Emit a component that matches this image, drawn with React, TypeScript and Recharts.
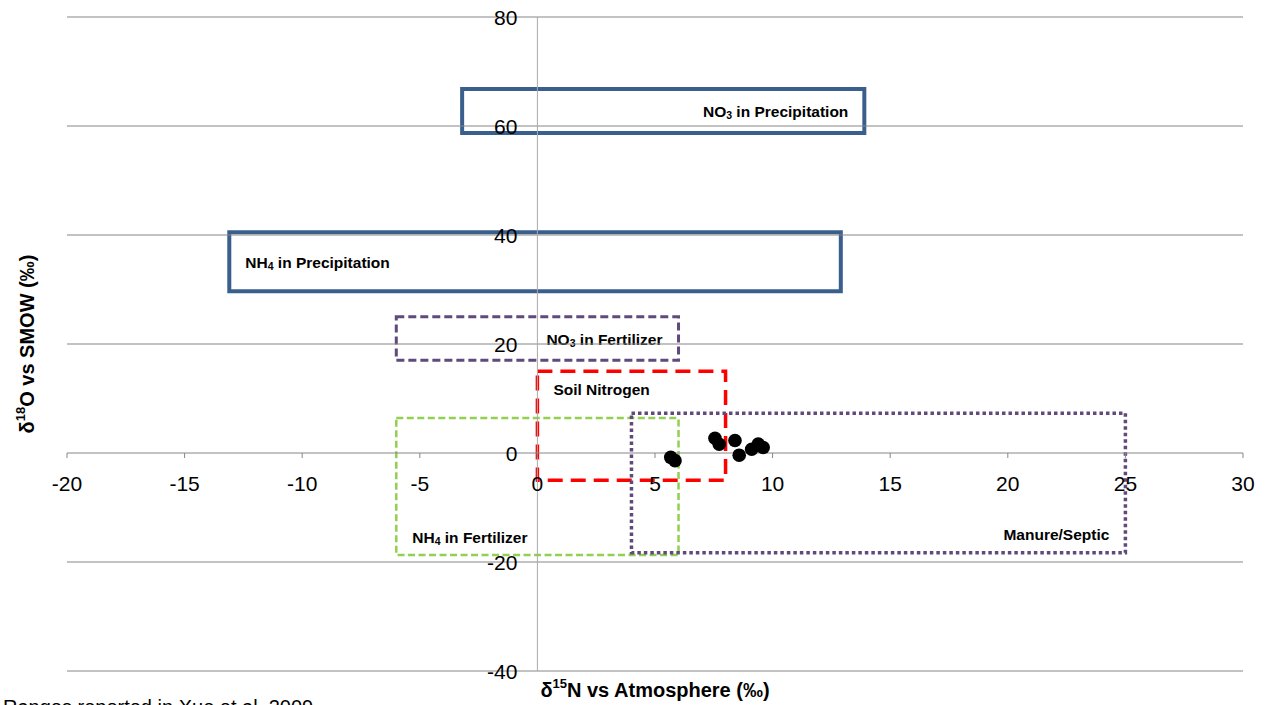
import React from "react";
import {
  ReferenceArea,
  ReferenceDot,
  ReferenceLine,
  Scatter,
  ScatterChart,
  XAxis,
  YAxis,
} from "recharts";

// axis ticks
const xTicks = [-20, -15, -10, -5, 0, 5, 10, 15, 20, 25, 30];
const yTicks = [-40, -20, 0, 20, 40, 60, 80];

const sampleN15 = [5.67, 5.85, 7.55, 7.73, 8.4, 8.58, 9.11, 9.39, 9.6];
const sampleO18 = [-0.8, -1.4, 2.7, 1.6, 2.3, -0.4, 0.7, 1.65, 1.0];

// literature source ranges (Xue et al. 2009)
const sourceNames = [
  "NO3 in Precipitation",
  "NH4 in Precipitation",
  "NO3 in Fertilizer",
  "Soil Nitrogen",
  "NH4 in Fertilizer",
  "Manure/Septic",
];
const sourceN15 = [
  [-3.2, 13.9],
  [-13.1, 12.9],
  [-6, 6],
  [0, 8],
  [-6, 6],
  [4, 25],
];
const sourceO18 = [
  [58.7, 66.8],
  [29.7, 40.5],
  [17, 25],
  [-5, 15],
  [-18.7, 6.4],
  [-18.3, 7.3],
];

const sourceNote = "Ranges reported in Xue et al. 2009";

const samples = sampleN15.map((x, i) => ({ x, y: sampleO18[i] }));

const FONT = "'Liberation Sans Narrow', 'Liberation Sans', Arial, sans-serif";
const GRID = "#868686";

type Place = "right" | "left" | "topLeft" | "bottomLeft" | "bottomRight";

// look of each range box (keyed by name)
const boxStyle: Record<string, { stroke: string; width: number; dash?: string; place: Place }> = {
  "NO3 in Precipitation": { stroke: "#3A5F8D", width: 4, place: "right" },
  "NH4 in Precipitation": { stroke: "#3A5F8D", width: 4, place: "left" },
  "NO3 in Fertilizer": { stroke: "#604A7B", width: 3, dash: "8 4", place: "right" },
  "Soil Nitrogen": { stroke: "#FF0000", width: 3.5, dash: "15 8", place: "topLeft" },
  "NH4 in Fertilizer": { stroke: "#92D050", width: 2.5, dash: "7 3.5", place: "bottomLeft" },
  "Manure/Septic": { stroke: "#604A7B", width: 3.5, dash: "3.5 3", place: "bottomRight" },
};

function boxLabel(name: string, place: Place) {
  return (props: any) => {
    const { x, y, width, height } = props.viewBox;
    const inset = 16;
    const vInset = 18;
    let tx = x + inset;
    let ty = y + height / 2;
    let anchor: "start" | "end" = "start";
    if (place === "right" || place === "bottomRight") {
      tx = x + width - inset;
      anchor = "end";
    }
    if (place === "topLeft") ty = y + vInset;
    if (place === "bottomLeft" || place === "bottomRight") ty = y + height - vInset;
    const m = name.match(/^(N[OH])(\d)(.*)$/);
    return (
      <text
        x={tx}
        y={ty}
        textAnchor={anchor}
        dominantBaseline="central"
        fontFamily={FONT}
        fontWeight={700}
        fontSize={15.5}
        fill="#000"
      >
        {m ? (
          <>
            <tspan>{m[1]}</tspan>
            <tspan fontSize={10.5} dy={4}>
              {m[2]}
            </tspan>
            <tspan dy={-4}>{m[3]}</tspan>
          </>
        ) : (
          name
        )}
      </text>
    );
  };
}

const xTitle = (props: any) => {
  const { x, y, width, height } = props.viewBox;
  return (
    <text
      x={x + width / 2}
      y={y + height / 2 + 2}
      textAnchor="middle"
      dominantBaseline="central"
      fontFamily={FONT}
      fontWeight={700}
      fontSize={20}
      fill="#000"
    >
      δ<tspan fontSize={13} dy={-7}>15</tspan>
      <tspan dy={7}>N vs Atmosphere (‰)</tspan>
    </text>
  );
};

const yTitle = (props: any) => {
  const { x, y, height } = props.viewBox;
  const cx = x + 27;
  const cy = y + height / 2;
  return (
    <text
      x={cx}
      y={cy}
      transform={`rotate(-90, ${cx}, ${cy})`}
      textAnchor="middle"
      dominantBaseline="central"
      fontFamily={FONT}
      fontWeight={700}
      fontSize={20}
      fill="#000"
    >
      δ<tspan fontSize={13} dy={-7}>18</tspan>
      <tspan dy={7}>O vs SMOW (‰)</tspan>
    </text>
  );
};

export default function App() {
  return (
    <div
      style={{
        position: "fixed",
        left: 0,
        top: 0,
        width: 1267,
        height: 705,
        overflow: "hidden",
        background: "#fff",
      }}
    >
      <ScatterChart width={1267} height={705} margin={{ top: 17, right: 24, bottom: 0, left: 0 }}>
        <XAxis
          type="number"
          dataKey="x"
          domain={[-20, 30]}
          ticks={xTicks}
          tick={false}
          tickLine={false}
          axisLine={false}
          height={34}
          label={xTitle}
        />
        <YAxis
          type="number"
          dataKey="y"
          domain={[-40, 80]}
          ticks={yTicks}
          tick={false}
          tickLine={false}
          axisLine={false}
          width={67}
          label={yTitle}
        />
        {/* horizontal gridlines (the one at 0 doubles as the x axis) */}
        {yTicks.map((t) => (
          <ReferenceLine key={"g" + t} y={t} stroke={GRID} ifOverflow="visible" />
        ))}
        <ReferenceLine x={0} stroke="#ababab" />
        {xTicks.map((t) => (
          <ReferenceDot
            key={"xt" + t}
            x={t}
            y={0}
            r={0}
            ifOverflow="visible"
            shape={(p: any) => (
              <g>
                <line x1={p.cx} y1={p.cy} x2={p.cx} y2={p.cy + 5} stroke={GRID} />
                <text
                  x={p.cx}
                  y={p.cy + 38}
                  textAnchor="middle"
                  fontFamily={FONT}
                  fontSize={21}
                  fill="#000"
                >
                  {String(t)}
                </text>
              </g>
            )}
          />
        ))}
        {yTicks.map((t) => (
          <ReferenceDot
            key={"yt" + t}
            x={0}
            y={t}
            r={0}
            ifOverflow="visible"
            shape={(p: any) => (
              <text
                x={p.cx - 20}
                y={p.cy + 8}
                textAnchor="end"
                fontFamily={FONT}
                fontSize={21}
                fill="#000"
              >
                {String(t)}
              </text>
            )}
          />
        ))}
        {sourceNames.map((name, i) => {
          const s = boxStyle[name];
          return (
            <ReferenceArea
              key={name}
              x1={sourceN15[i][0]}
              x2={sourceN15[i][1]}
              y1={sourceO18[i][0]}
              y2={sourceO18[i][1]}
              fill="none"
              fillOpacity={0}
              stroke={s.stroke}
              strokeWidth={s.width}
              strokeDasharray={s.dash}
              ifOverflow="visible"
              label={boxLabel(name, s.place)}
            />
          );
        })}
        <Scatter
          data={samples}
          isAnimationActive={false}
          shape={(p: any) => <circle cx={p.cx} cy={p.cy} r={6.8} fill="#000" />}
        />
      </ScatterChart>
      <div
        style={{
          position: "absolute",
          left: 3,
          top: 697,
          fontFamily: FONT,
          fontSize: 20,
          lineHeight: "20px",
          whiteSpace: "nowrap",
          color: "#000",
        }}
      >
        {sourceNote}
      </div>
    </div>
  );
}
